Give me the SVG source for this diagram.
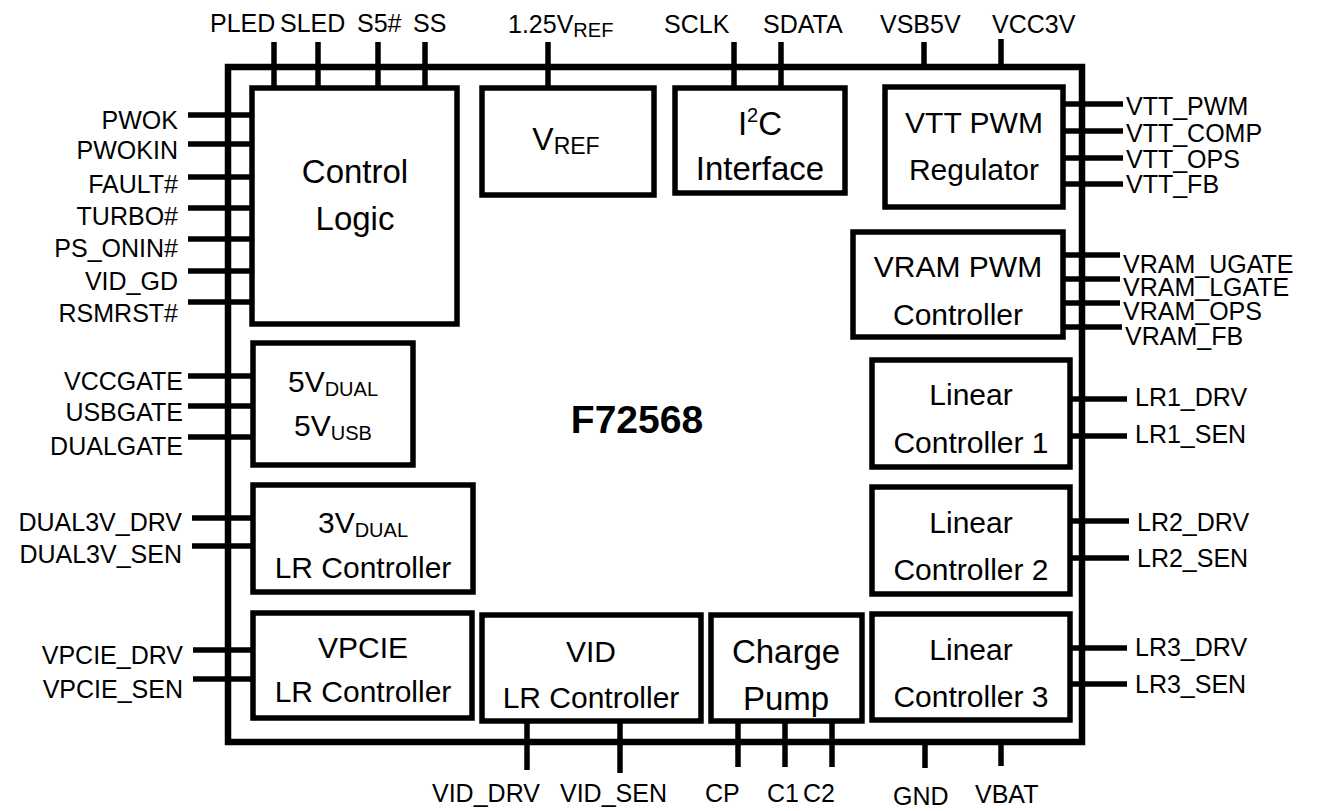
<svg xmlns="http://www.w3.org/2000/svg" width="1317" height="811" viewBox="0 0 1317 811">
<style>
text{font-family:"Liberation Sans",Arial,sans-serif;fill:#000}
.pin{font-size:25px}
.bl{font-size:30px;text-anchor:middle}
.bb{font-size:33px;text-anchor:middle}
.r{text-anchor:end}
.box{fill:#fff;stroke:#000;stroke-width:5.5}
.w{stroke:#000;stroke-width:5.5;fill:none}
.sub{font-size:20px}
</style>
<rect width="1317" height="811" fill="#fff"/>
<g id="connectors" class="w">
<path d="M274 42V88M318 42V88M378 42V88M425 42V88M548 42V88M734 42V88M781 42V88M924 42V67M1001 39V67"/>
<path d="M188 115H252M188 144H252M188 177H252M188 208H252M188 239H252M188 271H252M188 302H252"/>
<path d="M188 376H253M188 406H253M188 437H253M192 518H253M192 546H253M193 650H253M193 679H253"/>
<path d="M1063 104H1123M1063 131H1123M1063 158H1123M1063 184H1123"/>
<path d="M1060 255H1120M1060 279H1120M1060 303H1120M1063 327H1122"/>
<path d="M1070 399H1127M1070 436H1127M1070 521H1129M1070 558H1129M1070 648H1127M1070 684H1127"/>
<path d="M527 721V770M620 721V773M738 721V767M785 721V767M832 721V767M925 742V768M1001 742V766"/>
</g>
<g id="chip">
<rect x="228" y="67" width="854" height="675" fill="none" stroke="#000" stroke-width="6.5"/>
<text x="637" y="433" text-anchor="middle" font-size="39" font-weight="bold">F72568</text>
</g>
<g id="pin-labels" class="pin">
<text x="210" y="32">PLED</text>
<text x="280" y="32">SLED</text>
<text x="357" y="32">S5#</text>
<text x="413" y="32">SS</text>
<text x="508" y="33">1.25V<tspan class="sub" dy="4">REF</tspan></text>
<text x="664" y="33">SCLK</text>
<text x="763" y="33">SDATA</text>
<text x="880" y="33">VSB5V</text>
<text x="992" y="33">VCC3V</text>
<g class="r">
<text x="178" y="129">PWOK</text>
<text x="178" y="159">PWOKIN</text>
<text x="178" y="193">FAULT#</text>
<text x="178" y="225">TURBO#</text>
<text x="178" y="257">PS_ONIN#</text>
<text x="178" y="290">VID_GD</text>
<text x="178" y="322">RSMRST#</text>
<text x="183" y="390">VCCGATE</text>
<text x="183" y="421">USBGATE</text>
<text x="183" y="455">DUALGATE</text>
<text x="182" y="531">DUAL3V_DRV</text>
<text x="182" y="563">DUAL3V_SEN</text>
<text x="183" y="664">VPCIE_DRV</text>
<text x="183" y="698">VPCIE_SEN</text>
</g>
<text x="1126" y="115">VTT_PWM</text>
<text x="1126" y="142">VTT_COMP</text>
<text x="1126" y="168">VTT_OPS</text>
<text x="1126" y="193">VTT_FB</text>
<text x="1123" y="273">VRAM_UGATE</text>
<text x="1123" y="296">VRAM_LGATE</text>
<text x="1123" y="320">VRAM_OPS</text>
<text x="1125" y="345">VRAM_FB</text>
<text x="1135" y="406">LR1_DRV</text>
<text x="1135" y="443">LR1_SEN</text>
<text x="1137" y="531">LR2_DRV</text>
<text x="1137" y="567">LR2_SEN</text>
<text x="1135" y="656">LR3_DRV</text>
<text x="1135" y="693">LR3_SEN</text>
<text x="432" y="802">VID_DRV</text>
<text x="560" y="802">VID_SEN</text>
<text x="705" y="802">CP</text>
<text x="767" y="802">C1</text>
<text x="803" y="802">C2</text>
<text x="893" y="805">GND</text>
<text x="975" y="803">VBAT</text>
</g>
<g id="control-logic">
<rect class="box" x="252" y="88" width="205" height="236"/>
<text class="bb" x="355" y="183">Control</text>
<text class="bb" x="355" y="230">Logic</text>
</g>
<g id="vref">
<rect class="box" x="482" y="88" width="172" height="107"/>
<text x="566" y="150" text-anchor="middle" font-size="32">V<tspan font-size="23" dy="4">REF</tspan></text>
</g>
<g id="i2c">
<rect class="box" x="675" y="88" width="170" height="105"/>
<text class="bb" x="760" y="135">I<tspan font-size="20" dy="-13">2</tspan><tspan dy="13">C</tspan></text>
<text class="bb" x="760" y="180">Interface</text>
</g>
<g id="vtt-pwm">
<rect class="box" x="885" y="87" width="178" height="120"/>
<text class="bl" x="974" y="133">VTT PWM</text>
<text class="bl" x="974" y="180">Regulator</text>
</g>
<g id="vram-pwm">
<rect class="box" x="853" y="232" width="210" height="105"/>
<text class="bl" x="958" y="277">VRAM PWM</text>
<text class="bl" x="958" y="325">Controller</text>
</g>
<g id="linear1">
<rect class="box" x="872" y="360" width="198" height="107"/>
<text class="bl" x="971" y="405">Linear</text>
<text class="bl" x="971" y="453">Controller 1</text>
</g>
<g id="linear2">
<rect class="box" x="872" y="487" width="198" height="107"/>
<text class="bl" x="971" y="533">Linear</text>
<text class="bl" x="971" y="580">Controller 2</text>
</g>
<g id="linear3">
<rect class="box" x="872" y="614" width="198" height="106"/>
<text class="bl" x="971" y="660">Linear</text>
<text class="bl" x="971" y="707">Controller 3</text>
</g>
<g id="v5">
<rect class="box" x="253" y="343" width="160" height="122"/>
<text class="bl" x="333" y="392">5V<tspan class="sub" dy="4">DUAL</tspan></text>
<text class="bl" x="333" y="436">5V<tspan class="sub" dy="4">USB</tspan></text>
</g>
<g id="v3dual">
<rect class="box" x="253" y="485" width="220" height="107"/>
<text class="bl" x="363" y="533">3V<tspan class="sub" dy="4">DUAL</tspan></text>
<text class="bl" x="363" y="578">LR Controller</text>
</g>
<g id="vpcie">
<rect class="box" x="253" y="613" width="219" height="105"/>
<text class="bl" x="363" y="658">VPCIE</text>
<text class="bl" x="363" y="702">LR Controller</text>
</g>
<g id="vid">
<rect class="box" x="482" y="615" width="219" height="106"/>
<text class="bl" x="591" y="662">VID</text>
<text class="bl" x="591" y="708">LR Controller</text>
</g>
<g id="charge-pump">
<rect class="box" x="711" y="615" width="151" height="106"/>
<text class="bb" x="786" y="663">Charge</text>
<text class="bb" x="786" y="710">Pump</text>
</g>
</svg>
